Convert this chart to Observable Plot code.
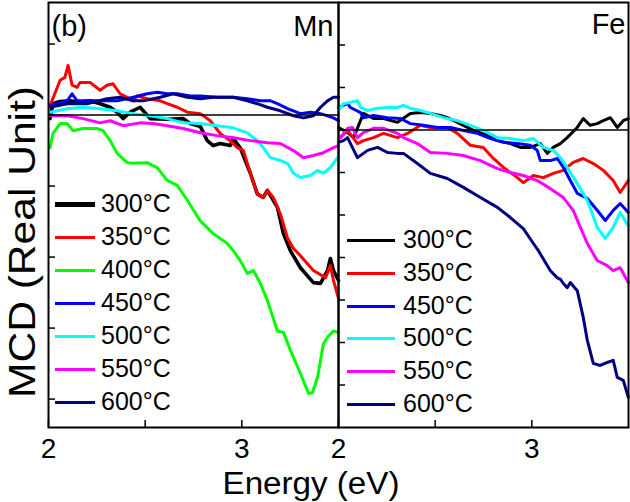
<!DOCTYPE html>
<html><head><meta charset="utf-8">
<script src="https://cdn.jsdelivr.net/npm/d3@7"></script>
<script src="https://cdn.jsdelivr.net/npm/@observablehq/plot@0.6"></script>
<style>
body{margin:0;background:#fff;}
#wrap{position:relative;width:630px;height:502px;font-family:"Liberation Sans",Arial,sans-serif;overflow:hidden;background:#fff;}
#wrap svg{position:absolute;top:0;}
.lab{position:absolute;white-space:nowrap;color:#000;line-height:1;}
.leg{position:absolute;white-space:nowrap;color:#000;line-height:1;font-size:25px;}
</style></head><body><div id="wrap"></div>
<script>
// ---------- data ----------
const mnTemps = ["300°C","350°C","400°C","450°C","500°C","550°C","600°C"];
const mnColors = ["#000000","#ff0000","#00ff00","#0000ff","#00ffff","#ff00ff","#000080"];
const feTemps = ["300°C","350°C","450°C","500°C","550°C","600°C"];
const feColors = ["#000000","#ff0000","#0000ff","#00ffff","#ff00ff","#000080"];
const xTicks = [2, 2.5, 3];
const mnYTicks = [-4,-3,-2,-1,0,1];
const feYTicks = [-6,-5,-4,-3,-2,-1,0,1,2];
const panelNames = ["Mn","Fe"];
const panelTag = "(b)";

// Mn panel, [energy (eV), MCD (arb.)]
const mn300 = [[2.008,-0.05],[2.023,0.16],[2.060,0.19],[2.111,0.20],[2.163,0.18],[2.215,0.20],[2.267,0.16],[2.319,0.11],[2.355,0.04],[2.386,-0.05],[2.422,0.04],[2.474,0.11],[2.526,-0.05],[2.614,-0.06],[2.697,-0.05],[2.733,-0.12],[2.785,-0.16],[2.821,-0.36],[2.852,-0.43],[2.888,-0.40],[2.940,-0.43],[2.956,-0.33],[2.992,-0.46],[3.044,-0.82],[3.080,-1.11],[3.111,-1.16],[3.132,-1.06],[3.184,-1.30],[3.215,-1.67],[3.251,-1.91],[3.303,-2.15],[3.370,-2.36],[3.407,-2.37],[3.443,-2.19],[3.458,-2.02],[3.474,-2.19],[3.500,-2.33]];
const mn350 = [[2.008,0.13],[2.060,0.49],[2.085,0.53],[2.101,0.70],[2.122,0.42],[2.148,0.39],[2.163,0.46],[2.215,0.46],[2.267,0.35],[2.303,0.42],[2.334,0.44],[2.370,0.30],[2.407,0.25],[2.438,0.20],[2.459,0.27],[2.510,0.23],[2.578,0.20],[2.614,0.16],[2.666,0.11],[2.718,0.04],[2.785,0.02],[2.837,-0.08],[2.888,-0.26],[2.940,-0.36],[2.977,-0.46],[3.008,-0.50],[3.044,-0.82],[3.080,-1.11],[3.111,-1.16],[3.132,-1.06],[3.163,-1.16],[3.199,-1.39],[3.236,-1.73],[3.267,-1.88],[3.303,-1.98],[3.370,-2.19],[3.433,-2.29],[3.458,-2.12],[3.474,-2.33],[3.500,-2.58]];
const mn400 = [[2.008,-0.46],[2.023,-0.26],[2.060,-0.12],[2.096,-0.12],[2.127,-0.22],[2.179,-0.19],[2.251,-0.19],[2.282,-0.22],[2.319,-0.36],[2.355,-0.54],[2.407,-0.67],[2.438,-0.68],[2.510,-0.67],[2.562,-0.74],[2.614,-0.92],[2.666,-0.99],[2.718,-1.20],[2.785,-1.49],[2.852,-1.67],[2.925,-1.81],[2.956,-1.91],[2.992,-2.05],[3.028,-2.23],[3.060,-2.19],[3.096,-2.37],[3.132,-2.61],[3.184,-3.04],[3.215,-3.06],[3.251,-3.31],[3.303,-3.64],[3.345,-3.92],[3.365,-3.91],[3.391,-3.70],[3.422,-3.22],[3.443,-3.13],[3.474,-3.04],[3.500,-3.06]];
const mn450 = [[2.008,0.13],[2.096,0.20],[2.122,0.30],[2.148,0.20],[2.267,0.20],[2.355,0.20],[2.438,0.25],[2.510,0.30],[2.562,0.32],[2.614,0.30],[2.666,0.30],[2.733,0.27],[2.785,0.27],[2.873,0.25],[2.956,0.25],[3.028,0.23],[3.096,0.20],[3.148,0.20],[3.184,0.16],[3.236,0.09],[3.303,0.02],[3.355,0.04],[3.407,0.02],[3.474,-0.04],[3.500,-0.08]];
const mn500 = [[2.008,0.04],[2.096,0.09],[2.179,0.11],[2.267,0.09],[2.355,0.06],[2.438,0.02],[2.526,-0.01],[2.614,-0.05],[2.697,-0.11],[2.785,-0.12],[2.873,-0.15],[2.956,-0.18],[3.028,-0.25],[3.080,-0.36],[3.111,-0.46],[3.148,-0.60],[3.199,-0.64],[3.236,-0.68],[3.267,-0.82],[3.303,-0.88],[3.355,-0.85],[3.391,-0.78],[3.422,-0.82],[3.458,-0.74],[3.495,-0.60]];
const mn550 = [[2.008,-0.01],[2.096,-0.01],[2.179,-0.05],[2.267,-0.11],[2.319,-0.08],[2.386,-0.15],[2.474,-0.11],[2.541,-0.12],[2.614,-0.15],[2.697,-0.19],[2.785,-0.25],[2.873,-0.29],[2.956,-0.32],[3.044,-0.36],[3.132,-0.39],[3.199,-0.40],[3.267,-0.50],[3.319,-0.60],[3.370,-0.57],[3.422,-0.53],[3.474,-0.46],[3.500,-0.43]];
const mn600 = [[2.008,0.11],[2.096,0.16],[2.199,0.16],[2.303,0.23],[2.370,0.25],[2.438,0.20],[2.490,0.20],[2.578,0.25],[2.645,0.30],[2.718,0.25],[2.785,0.23],[2.852,0.25],[2.956,0.25],[3.028,0.20],[3.080,0.16],[3.132,0.11],[3.199,0.06],[3.267,-0.01],[3.319,-0.04],[3.370,-0.01],[3.407,0.11],[3.443,0.20],[3.474,0.25],[3.500,0.25]];

// Fe panel, [energy (eV), MCD (arb.)]
const fe300 = [[2.000,0.06],[2.047,-0.06],[2.078,-0.18],[2.129,0.39],[2.181,0.27],[2.233,0.27],[2.305,0.18],[2.372,0.39],[2.424,0.41],[2.475,0.39],[2.527,0.34],[2.563,0.29],[2.615,0.18],[2.646,0.11],[2.698,-0.01],[2.770,-0.13],[2.822,-0.25],[2.889,-0.32],[2.941,-0.41],[2.992,-0.41],[3.044,-0.32],[3.080,-0.55],[3.111,-0.41],[3.147,-0.32],[3.183,-0.18],[3.235,0.06],[3.266,0.27],[3.302,0.11],[3.338,0.15],[3.370,0.22],[3.406,0.29],[3.442,0.06],[3.473,0.22],[3.499,0.27]];
const fe350 = [[2.010,-0.18],[2.047,-0.01],[2.098,-0.32],[2.129,-0.25],[2.181,-0.18],[2.233,-0.08],[2.305,-0.18],[2.357,-0.08],[2.424,0.11],[2.475,0.06],[2.563,0.06],[2.615,-0.08],[2.682,-0.36],[2.749,-0.41],[2.801,-0.67],[2.853,-0.88],[2.925,-1.12],[2.956,-1.24],[3.008,-1.07],[3.059,-1.12],[3.111,-1.02],[3.163,-0.95],[3.214,-0.76],[3.266,-0.67],[3.318,-0.79],[3.370,-0.95],[3.421,-1.19],[3.457,-1.47],[3.499,-1.19]];
const fe450 = [[2.000,0.53],[2.047,0.62],[2.062,0.53],[2.114,0.41],[2.129,0.29],[2.181,0.34],[2.253,0.29],[2.320,0.27],[2.372,0.15],[2.439,0.11],[2.512,0.06],[2.579,0.06],[2.646,-0.01],[2.718,-0.08],[2.786,-0.20],[2.853,-0.29],[2.925,-0.32],[2.992,-0.36],[3.028,-0.48],[3.044,-0.72],[3.096,-0.72],[3.132,-0.67],[3.163,-0.88],[3.199,-1.19],[3.235,-1.49],[3.287,-1.61],[3.338,-1.89],[3.380,-2.13],[3.421,-1.89],[3.457,-1.73],[3.499,-1.94]];
const fe500 = [[2.000,0.46],[2.026,0.62],[2.062,0.65],[2.098,0.69],[2.114,0.53],[2.150,0.46],[2.202,0.51],[2.253,0.53],[2.305,0.53],[2.336,0.58],[2.372,0.51],[2.424,0.46],[2.475,0.39],[2.543,0.29],[2.615,0.22],[2.682,0.11],[2.749,-0.01],[2.822,-0.18],[2.889,-0.20],[2.956,-0.25],[3.008,-0.20],[3.059,-0.41],[3.111,-0.48],[3.147,-0.65],[3.183,-0.88],[3.235,-1.26],[3.287,-1.66],[3.338,-2.29],[3.380,-2.55],[3.421,-2.29],[3.457,-1.94],[3.499,-2.25]];
const fe550 = [[2.010,-0.18],[2.047,0.04],[2.072,0.06],[2.098,-0.18],[2.129,-0.06],[2.181,0.04],[2.233,0.04],[2.305,-0.08],[2.336,-0.18],[2.408,-0.32],[2.475,-0.53],[2.563,-0.55],[2.646,-0.60],[2.734,-0.72],[2.822,-0.91],[2.889,-1.00],[2.956,-1.07],[3.028,-1.19],[3.096,-1.38],[3.163,-1.59],[3.214,-1.89],[3.251,-2.29],[3.287,-2.67],[3.338,-3.07],[3.390,-3.19],[3.421,-3.31],[3.457,-3.24],[3.499,-3.59]];
const fe600 = [[2.000,-0.29],[2.026,-0.25],[2.047,-0.18],[2.062,-0.32],[2.098,-0.65],[2.129,-0.55],[2.150,-0.48],[2.202,-0.41],[2.253,-0.53],[2.305,-0.55],[2.336,-0.55],[2.408,-0.79],[2.475,-1.02],[2.563,-1.14],[2.646,-1.35],[2.734,-1.59],[2.822,-1.82],[2.889,-2.06],[2.956,-2.32],[3.008,-2.67],[3.034,-2.84],[3.096,-3.31],[3.132,-3.48],[3.147,-3.51],[3.163,-3.61],[3.183,-3.71],[3.199,-3.59],[3.235,-3.78],[3.266,-4.41],[3.287,-4.95],[3.318,-5.49],[3.354,-5.54],[3.390,-5.47],[3.421,-5.42],[3.442,-5.82],[3.473,-5.89],[3.499,-6.29]];

const mnSeries = [mn300, mn350, mn400, mn450, mn500, mn550, mn600];
const feSeries = [fe300, fe350, fe450, fe500, fe550, fe600];

// ---------- drawing ----------
const FONT = '"Liberation Sans", Arial, sans-serif';
const wrap = document.getElementById("wrap");

function panel({series, colors, blackWidth, yDomain, yTicks, width, mL, mR, name, tag, nameDx, nameDy}) {
  const marks = [];
  series.forEach((s, i) => {
    marks.push(Plot.line(s, {x: d => d[0], y: d => d[1], stroke: colors[i],
      strokeWidth: colors[i] === "#000000" ? blackWidth : 3, strokeLinejoin: "round"}));
  });
  marks.push(Plot.ruleY([0], {stroke: "#000", strokeWidth: 1.5}));
  marks.push(Plot.axisX({ticks: xTicks, tickSize: -7, tickPadding: 18, tickFormat: d => d % 1 === 0 ? String(d) : "", fontSize: 28, strokeWidth: 1.5, label: null}));
  marks.push(Plot.axisY({ticks: yTicks, tickSize: -7, tickFormat: () => "", strokeWidth: 1.5, label: null}));
  marks.push(Plot.frame({stroke: "#000", strokeWidth: 2}));
  marks.push(Plot.text([name], {text: d => d, frameAnchor: "top-right", textAnchor: "end", lineAnchor: "top", dx: nameDx, dy: nameDy, fontSize: 29, fill: "#000"}));
  if (tag) marks.push(Plot.text([tag], {text: d => d, frameAnchor: "top-left", textAnchor: "start", lineAnchor: "top", dx: 3, dy: 13, fontSize: 29, fill: "#000"}));
  return Plot.plot({
    width, height: 502, marginTop: 2, marginBottom: 75, marginLeft: mL, marginRight: mR,
    x: {domain: [2, 3.5], label: null},
    y: {domain: yDomain, label: null},
    style: {fontFamily: FONT, fontSize: "28px", color: "#000", background: "transparent", overflow: "visible"},
    marks
  });
}

const left = panel({series: mnSeries, colors: mnColors, blackWidth: 3.6, yDomain: [-4.40, 1.585], yTicks: mnYTicks,
  width: 339, mL: 48, mR: 1, name: panelNames[0], tag: panelTag, nameDx: -5, nameDy: 13});
left.style.left = "0px";
wrap.appendChild(left);

const right = panel({series: feSeries, colors: feColors, blackWidth: 3, yDomain: [-7, 3], yTicks: feYTicks,
  width: 293, mL: 1, mR: 2, name: panelNames[1], tag: null, nameDx: -3, nameDy: 11});
right.style.left = "337px";
wrap.appendChild(right);

// legends
function legend(temps, colors, x0, y0, step, lineW, textX, blackH) {
  temps.forEach((t, i) => {
    const y = Math.round(y0 + i * step);
    const h = colors[i] === "#000000" ? blackH : 3;
    const ln = document.createElement("div");
    ln.style.cssText = `position:absolute;left:${x0}px;top:${y - Math.floor(h/2)}px;width:${lineW}px;height:${h}px;background:${colors[i]};z-index:2;`;
    wrap.appendChild(ln);
    const tx = document.createElement("div");
    tx.className = "leg";
    tx.textContent = t;
    tx.style.left = textX + "px";
    tx.style.top = (y - 13) + "px";
    tx.style.zIndex = 2;
    wrap.appendChild(tx);
  });
}
legend(mnTemps, mnColors, 55, 203.5, 33, 40, 101, 5);
legend(feTemps, feColors, 347, 240, 32.8, 48, 403, 3);

// axis titles
const yl = document.createElement("div");
yl.className = "lab";
yl.textContent = "MCD (Real Unit)";
yl.style.cssText += "left:22px;top:242px;font-size:37px;transform:translate(-50%,-50%) rotate(-90deg) scaleX(1.15);";
wrap.appendChild(yl);

const xl = document.createElement("div");
xl.className = "lab";
xl.textContent = "Energy (eV)";
xl.style.cssText += "left:311px;top:483px;font-size:31px;transform:translate(-50%,-50%) scaleX(1.07);";
wrap.appendChild(xl);
</script></body></html>
